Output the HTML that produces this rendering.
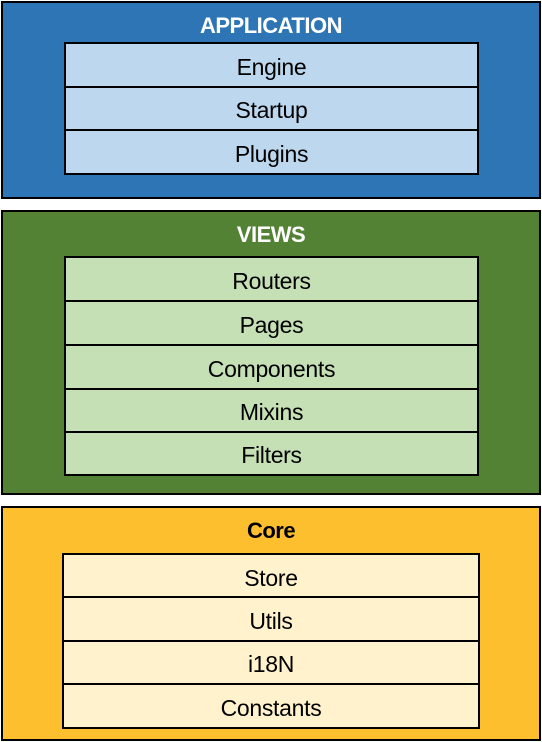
<!DOCTYPE html>
<html><head><style>
body{margin:0;width:542px;height:742px;background:#fff;position:relative;font-family:"Liberation Sans",sans-serif;}
.o{position:absolute;left:1px;width:540px;border:2.5px solid #000;box-sizing:border-box;}
.t{position:absolute;left:0;width:100%;text-align:center;font-weight:bold;font-size:22px;color:#fff;letter-spacing:-0.5px;}
.r{position:absolute;box-sizing:border-box;border:2.5px solid #000;text-align:center;font-size:23px;color:#000;display:flex;align-items:center;justify-content:center;padding-top:4px;letter-spacing:-0.3px;}
</style></head><body>
<div class="o" style="top:1px;height:198px;background:#2e75b6"><div class="t" style="top:10px">APPLICATION</div></div>
<div class="r" style="left:64px;top:42px;width:415px;height:46px;background:#bdd7ee">Engine</div>
<div class="r" style="left:64px;top:86px;width:415px;height:45px;background:#bdd7ee">Startup</div>
<div class="r" style="left:64px;top:129px;width:415px;height:46px;background:#bdd7ee">Plugins</div>

<div class="o" style="top:210px;height:285px;background:#548235"><div class="t" style="top:10px">VIEWS</div></div>
<div class="r" style="left:64px;top:256px;width:415px;height:46px;background:#c5e0b4">Routers</div>
<div class="r" style="left:64px;top:300px;width:415px;height:46px;background:#c5e0b4">Pages</div>
<div class="r" style="left:64px;top:344px;width:415px;height:46px;background:#c5e0b4">Components</div>
<div class="r" style="left:64px;top:388px;width:415px;height:45px;background:#c5e0b4">Mixins</div>
<div class="r" style="left:64px;top:431px;width:415px;height:45px;background:#c5e0b4">Filters</div>

<div class="o" style="top:506px;height:235px;background:#fdbf2d"><div class="t" style="top:10px;color:#000">Core</div></div>
<div class="r" style="left:62px;top:553px;width:418px;height:46px;background:#fff2cc">Store</div>
<div class="r" style="left:62px;top:596px;width:418px;height:46px;background:#fff2cc">Utils</div>
<div class="r" style="left:62px;top:640px;width:418px;height:45px;background:#fff2cc">i18N</div>
<div class="r" style="left:62px;top:683px;width:418px;height:46px;background:#fff2cc">Constants</div>
</body></html>
